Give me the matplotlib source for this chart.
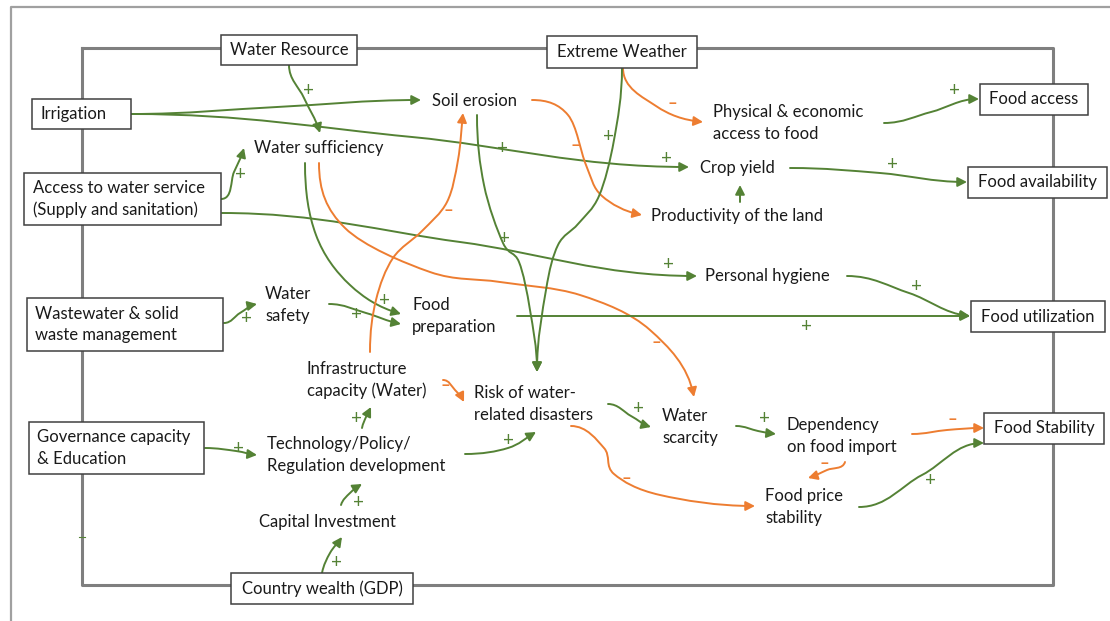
import numpy as np
import matplotlib
matplotlib.use("Agg")
import matplotlib.pyplot as plt
from matplotlib.path import Path
from matplotlib.patches import FancyArrowPatch, Rectangle

plt.rcParams['font.family'] = ['Lato', 'DejaVu Sans']

GREEN = '#548235'
ORANGE = '#ED7D31'
FRAME = '#7F7F7F'
FONT = 12

# boxed drivers / outcomes
box_labels = ["Water Resource", "Extreme Weather", "Irrigation",
              "Access to water service\n(Supply and sanitation)",
              "Wastewater & solid\nwaste management",
              "Governance capacity\n& Education", "Country wealth (GDP)",
              "Food access", "Food availability", "Food utilization",
              "Food Stability"]
box_rects = [(221, 35, 357, 65), (547, 36, 697, 68), (32, 99, 131, 129),
             (24, 173, 221, 225), (27, 298, 223, 351), (29, 422, 204, 474),
             (231, 573, 413, 604), (980, 84, 1088, 115), (968, 167, 1107, 198),
             (971, 301, 1105, 332), (984, 413, 1104, 444)]
box_text_left = [None, None, 40, 33, 35, 37, None, None, None, None, None]

# free-standing variables (left x, centre y)
node_labels = ["Soil erosion", "Water sufficiency",
               "Physical & economic\naccess to food", "Crop yield",
               "Productivity of the land", "Personal hygiene",
               "Water\nsafety", "Food\npreparation",
               "Infrastructure\ncapacity (Water)", "Risk of water-\nrelated disasters",
               "Technology/Policy/\nRegulation development", "Capital Investment",
               "Water\nscarcity", "Dependency\non food import",
               "Food price\nstability"]
node_pos = [(432, 101), (254, 148), (713, 123), (700, 168), (651, 216),
            (705, 276), (265, 305), (412, 316), (307, 380), (474, 404),
            (267, 455), (259, 522), (662, 427), (787, 436), (765, 507)]

# causal links: waypoints, start direction, end direction, polarity
link_points = [
    [(289, 65), (304, 98), (320, 133)],
    [(131, 114), (277, 107), (421, 100)],
    [(131, 114), (412, 137), (689, 167)],
    [(221, 199), (234, 172), (244, 148)],
    [(222, 213), (460, 242), (697, 276)],
    [(224, 323), (240, 313), (257, 304)],
    [(329, 304), (366, 313), (401, 324)],
    [(305, 163), (316, 235), (350, 285), (401, 314)],
    [(319, 163), (345, 228), (430, 272), (500, 282), (580, 295), (650, 330), (694, 397)],
    [(370, 352), (376, 300), (393, 258), (422, 231), (447, 202), (458, 160), (463, 113)],
    [(532, 100), (568, 115), (586, 165), (602, 196), (642, 215)],
    [(623, 68), (656, 106), (703, 122)],
    [(622, 68), (614, 140), (599, 196), (578, 224), (558, 245), (546, 290), (537, 372)],
    [(477, 115), (484, 185), (503, 243), (519, 262), (530, 310), (537, 372)],
    [(740, 202), (740, 185)],
    [(884, 123), (931, 112), (979, 99)],
    [(790, 168), (880, 173), (967, 182)],
    [(847, 276), (909, 293), (970, 316)],
    [(517, 316), (970, 316)],
    [(205, 448), (236, 451), (257, 455)],
    [(341, 505), (350, 493), (362, 484)],
    [(362, 428), (366, 417), (371, 407)],
    [(322, 573), (330, 553), (342, 537)],
    [(443, 380), (455, 390), (464, 402)],
    [(465, 454), (508, 448), (536, 432)],
    [(608, 404), (631, 416), (651, 427)],
    [(736, 426), (758, 431), (776, 434)],
    [(912, 434), (947, 430), (984, 428)],
    [(845, 462), (827, 470), (808, 478)],
    [(571, 426), (604, 448), (614, 474), (660, 495), (755, 506)],
    [(859, 507), (922, 475), (984, 443)],
]
link_dirs = [
    ((0, 1), (0.3, 1)), ((1, 0), (1, 0)), ((1, 0), (1, 0)), ((1, 0), (0.3, -1)),
    ((1, 0), (1, 0)), ((1, 0), (1, -0.2)), ((1, 0), (1, 0.2)), ((0, 1), (1, 0.3)),
    ((0, 1), (0.2, 1)), ((0, -1), (0.1, -1)), ((1, 0), (1, 0.2)), ((0, 1), (1, 0.1)),
    ((0, 1), (0, 1)), ((0, 1), (0, 1)), ((0, -1), (0, -1)), ((1, 0), (1, 0)),
    ((1, 0), (1, 0)), ((1, 0), (1, 0.1)), ((1, 0), (1, 0)), ((1, 0), (1, 0.1)),
    ((0.3, -1), (1, -0.6)), ((0.2, -1), (0.5, -1)), ((0.2, -1), (0.7, -1)),
    ((1, 0), (0.5, 1)), ((1, 0), (1, -0.6)), ((1, 0), (1, 0.3)), ((1, 0), (1, 0.1)),
    ((1, 0), (1, 0)), ((-0.3, 1), (-1, 0.3)), ((1, 0), (1, 0)), ((1, 0), (1, 0)),
]
link_signs = ['+', '+', '+', '+', '+', '+', '+', '+', '-', '-', '-', '-', '+', '+',
              '+', '+', '+', '+', '+', '+', '+', '+', '+', '-', '+', '+', '+', '-',
              '-', '-', '+']

# polarity labels
sign_text = ['+', '+', '+', '+', '+', '+', '+', '+', '-', '-', '-', '-', '+', '+',
             '+', '+', '+', '+', '+', '+', '+', '+', '-', '+', '+', '+', '-', '-',
             '-', '+']
sign_pos = [(308, 90), (502, 148), (667, 159), (240, 174), (668, 264), (246, 319),
            (356, 315), (385, 301), (656, 342), (448, 210), (575, 145), (672, 103),
            (608, 137), (505, 238), (954, 91), (893, 165), (916, 287), (807, 326),
            (239, 448), (358, 502), (356, 419), (336, 562), (445, 385), (509, 440),
            (639, 409), (764, 418), (952, 419), (824, 463), (626, 478), (930, 481)]


def smooth_path(pts, d0, d1):
    pts = np.asarray(pts, float)
    n = len(pts)
    tang = np.zeros_like(pts)
    for i in range(n):
        if i == 0 or i == n - 1:
            seg = pts[1] - pts[0] if i == 0 else pts[-1] - pts[-2]
            d = np.asarray(d0 if i == 0 else d1, float)
            tang[i] = d / np.linalg.norm(d) * np.linalg.norm(seg) * 1.2
        else:
            tang[i] = (pts[i + 1] - pts[i - 1]) / 2
    verts = [pts[0]]
    codes = [Path.MOVETO]
    for i in range(n - 1):
        verts += [pts[i] + tang[i] / 3, pts[i + 1] - tang[i + 1] / 3, pts[i + 1]]
        codes += [Path.CURVE4] * 3
    return Path(verts, codes)


fig = plt.figure(figsize=(11.1, 6.21), dpi=100)
ax = fig.add_axes([0, 0, 1, 1])
ax.set_xlim(0, 1110)
ax.set_ylim(621, 0)
ax.axis('off')

# outer and inner frames
ax.plot([11, 11, 1110], [621, 7, 7], color='#A0A0A0', lw=1.6, zorder=1)
ax.plot([82, 1053, 1053, 82, 82], [48, 48, 585, 585, 48], color=FRAME, lw=2.2, zorder=1)
ax.plot([79, 85], [537, 537], color=GREEN, lw=0.8, zorder=2)

for label, (x0, y0, x1, y1), tl in zip(box_labels, box_rects, box_text_left):
    ax.add_patch(Rectangle((x0, y0), x1 - x0, y1 - y0, facecolor='white',
                           edgecolor='#404040', lw=1.1, zorder=3))
    if tl is None:
        ax.text((x0 + x1) / 2, (y0 + y1) / 2, label, ha='center', va='center',
                fontsize=FONT, color='#1a1a1a', zorder=4)
    else:
        ax.text(tl, (y0 + y1) / 2, label, ha='left', va='center', fontsize=FONT,
                color='#1a1a1a', linespacing=1.45, zorder=4)

for label, (x, y) in zip(node_labels, node_pos):
    ax.text(x, y, label, ha='left', va='center', fontsize=FONT, color='#1a1a1a',
            linespacing=1.45, zorder=4)

for pts, (d0, d1), s in zip(link_points, link_dirs, link_signs):
    col = GREEN if s == '+' else ORANGE
    arr = FancyArrowPatch(path=smooth_path(pts, d0, d1),
                          arrowstyle='-|>,head_length=0.55,head_width=0.28',
                          mutation_scale=10, color=col, lw=1.4, zorder=2)
    ax.add_patch(arr)

for s, (x, y) in zip(sign_text, sign_pos):
    if s == '+':
        ax.text(x, y, '+', ha='center', va='center', fontsize=13.5,
                color=GREEN, zorder=4)
    else:
        ax.text(x, y, '–', ha='center', va='center', fontsize=12,
                fontweight='bold', color=ORANGE, zorder=4)

fig.savefig('out.png', dpi=100)
